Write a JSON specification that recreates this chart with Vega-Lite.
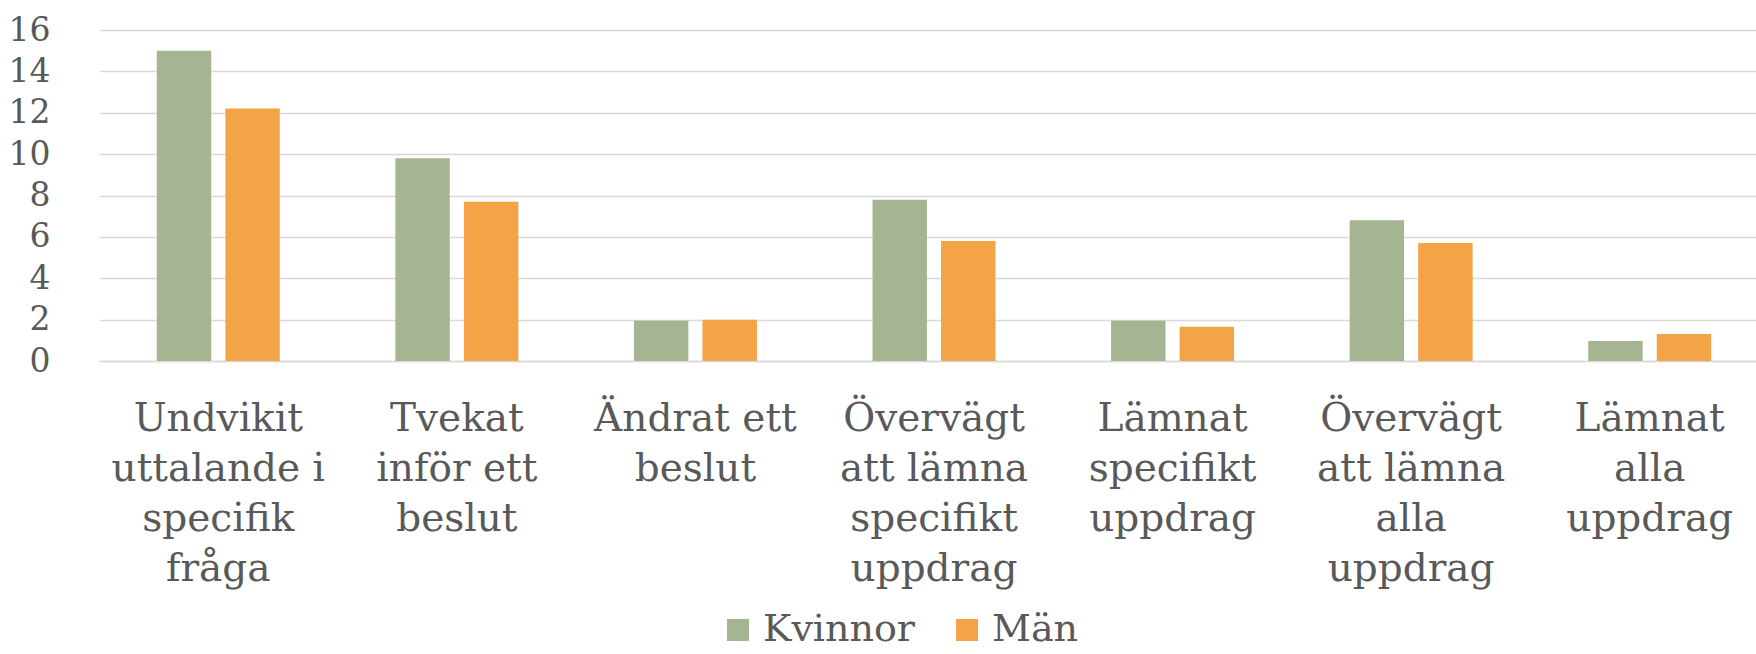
{
  "$schema": "https://vega.github.io/schema/vega-lite/v6.json",
  "width": 1657,
  "height": 331,
  "autosize": {"type": "none"},
  "padding": {"left": 99, "top": 30, "right": 0, "bottom": 293},
  "background": "white",
  "config": {
    "view": {"stroke": null},
    "font": "DejaVu Serif",
    "axis": {"labelFont": "DejaVu Serif", "labelColor": "#595959", "labelFontSize": 33},
    "legend": {"labelFont": "DejaVu Serif", "labelColor": "#595959", "labelFontSize": 38}
  },
  "data": {
    "values": [
      {"kategori": "Undvikit|uttalande i|specifik|fråga", "kon": "Kvinnor", "varde": 15.0},
      {"kategori": "Undvikit|uttalande i|specifik|fråga", "kon": "Män", "varde": 12.2},
      {"kategori": "Tvekat|inför ett|beslut", "kon": "Kvinnor", "varde": 9.8},
      {"kategori": "Tvekat|inför ett|beslut", "kon": "Män", "varde": 7.7},
      {"kategori": "Ändrat ett|beslut", "kon": "Kvinnor", "varde": 1.95},
      {"kategori": "Ändrat ett|beslut", "kon": "Män", "varde": 2.0},
      {"kategori": "Övervägt|att lämna|specifikt|uppdrag", "kon": "Kvinnor", "varde": 7.8},
      {"kategori": "Övervägt|att lämna|specifikt|uppdrag", "kon": "Män", "varde": 5.8},
      {"kategori": "Lämnat|specifikt|uppdrag", "kon": "Kvinnor", "varde": 1.95},
      {"kategori": "Lämnat|specifikt|uppdrag", "kon": "Män", "varde": 1.65},
      {"kategori": "Övervägt|att lämna|alla|uppdrag", "kon": "Kvinnor", "varde": 6.8},
      {"kategori": "Övervägt|att lämna|alla|uppdrag", "kon": "Män", "varde": 5.7},
      {"kategori": "Lämnat|alla|uppdrag", "kon": "Kvinnor", "varde": 0.97},
      {"kategori": "Lämnat|alla|uppdrag", "kon": "Män", "varde": 1.3}
    ]
  },
  "mark": {"type": "bar"},
  "encoding": {
    "x": {
      "field": "kategori",
      "type": "nominal",
      "sort": null,
      "scale": {"paddingInner": 0, "paddingOuter": 0, "range": [0, 1670]},
      "axis": {
        "title": null,
        "labelAngle": 0,
        "labelExpr": "split(datum.label, '|')",
        "labelLineHeight": 50,
        "labelPadding": 38,
        "labelFontSize": 39,
        "labelLimit": 0,
        "ticks": false,
        "domain": true,
        "domainColor": "#D9D9D9",
        "domainWidth": 1.5,
        "labelAlign": "center"
      }
    },
    "xOffset": {
      "field": "kon",
      "type": "nominal",
      "sort": ["Kvinnor", "Män"],
      "scale": {"paddingInner": 0.206, "paddingOuter": 0.843}
    },
    "y": {
      "field": "varde",
      "type": "quantitative",
      "scale": {"domain": [0, 16], "nice": false},
      "axis": {
        "title": null,
        "values": [0, 2, 4, 6, 8, 10, 12, 14, 16],
        "domain": false,
        "ticks": false,
        "grid": true,
        "gridColor": "#D9D9D9",
        "gridWidth": 1.5,
        "labelPadding": 49
      }
    },
    "color": {
      "field": "kon",
      "type": "nominal",
      "sort": ["Kvinnor", "Män"],
      "scale": {"domain": ["Kvinnor", "Män"], "range": ["#A5B592", "#F3A447"]},
      "legend": {
        "title": null,
        "orient": "none",
        "direction": "horizontal",
        "legendX": 620,
        "legendY": 581,
        "symbolType": "square",
        "symbolSize": 484,
        "symbolStrokeWidth": 0,
        "labelOffset": 6,
        "columnPadding": 33
      }
    }
  }
}
